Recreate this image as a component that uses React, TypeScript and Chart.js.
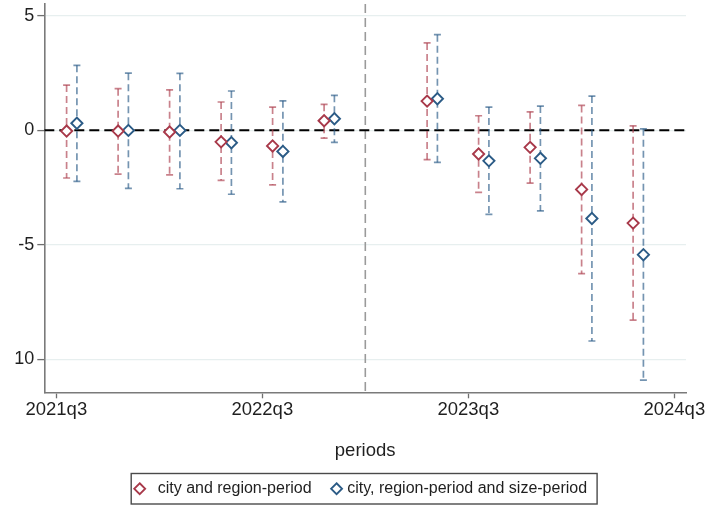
import React, { useEffect, useRef } from "react";
import { Chart, registerables } from "chart.js";

Chart.register(...registerables);

// ---------------- data ----------------
const periods = [
  "2021q3", "2021q4", "2022q1", "2022q2", "2022q3", "2022q4",
  "2023q2", "2023q3", "2023q4", "2024q1", "2024q2",
];
const referencePeriod = "2023q1";

const seriesNames = ["city and region-period", "city, region-period and size-period"];

const redCoef = [-0.04, -0.04, -0.08, -0.51, -0.69, 0.41, 1.27, -1.04, -0.75, -2.59, -4.06];
const redLow = [-2.09, -1.92, -1.95, -2.19, -2.39, -0.35, -1.29, -2.72, -2.31, -6.27, -8.3];
const redHigh = [1.97, 1.81, 1.76, 1.23, 1.01, 1.13, 3.81, 0.63, 0.8, 1.08, 0.19];

const blueCoef = [0.3, -0.01, -0.01, -0.55, -0.93, 0.5, 1.37, -1.34, -1.23, -3.86, -5.44];
const blueLow = [-2.24, -2.54, -2.56, -2.8, -3.13, -0.53, -1.41, -3.68, -3.53, -9.21, -10.92];
const blueHigh = [2.83, 2.49, 2.48, 1.71, 1.28, 1.52, 4.17, 1.01, 1.05, 1.49, 0.06];

const xTickLabels = ["2021q3", "2022q3", "2023q3", "2024q3"];
const yTickValues = [5, 0, -5, -10];
const yTickLabels = ["5", "0", "-5", "10"];
const xTitle = "periods";

// ---------------- helpers / styles ----------------
const quarterIndex = (p: string) => {
  const yr = parseInt(p.slice(0, 4), 10);
  const q = parseInt(p.slice(5), 10);
  return (yr - 2021) * 4 + (q - 3);
};

const FONT = "'Liberation Sans', Arial, Helvetica, sans-serif";
const TEXT = "#1f1f1f";
const RED = "#a8394a";
const RED_CI = "rgba(176,70,84,0.68)";
const BLUE = "#2b5b86";
const BLUE_CI = "rgba(44,92,136,0.66)";
const DODGE = [0.2, 0.4];
const PLOT_TOP = 4;

const ciSets = [
  { low: redLow, high: redHigh, color: RED_CI },
  { low: blueLow, high: blueHigh, color: BLUE_CI },
];

// pin the top edge of the plot area (tick-label padding would otherwise push it down)
const plotTopPlugin = {
  id: "plotTop",
  afterLayout(chart: any) {
    const ys = chart.scales.y;
    chart.chartArea.top = PLOT_TOP;
    chart.chartArea.height = chart.chartArea.bottom - PLOT_TOP;
    ys.top = PLOT_TOP;
    ys.height = ys.bottom - PLOT_TOP;
    ys.configure();
  },
};

const refLinesPlugin = {
  id: "refLines",
  beforeDatasetsDraw(chart: any) {
    const { ctx, chartArea } = chart;
    const xs = chart.scales.x;
    const ys = chart.scales.y;
    ctx.save();
    ctx.beginPath();
    ctx.rect(chartArea.left, chartArea.top, chartArea.right - chartArea.left, chartArea.bottom - chartArea.top);
    ctx.clip();

    // vertical reference line
    const vx = xs.getPixelForValue(quarterIndex(referencePeriod));
    ctx.strokeStyle = "#9a9a9a";
    ctx.lineWidth = 1.6;
    ctx.setLineDash([9, 5]);
    ctx.beginPath();
    ctx.moveTo(vx, chartArea.top);
    ctx.lineTo(vx, chartArea.bottom);
    ctx.stroke();

    // zero line
    const zy = ys.getPixelForValue(0);
    ctx.strokeStyle = "#000";
    ctx.lineWidth = 2;
    ctx.setLineDash([10, 5]);
    ctx.beginPath();
    ctx.moveTo(chartArea.left, zy);
    ctx.lineTo(chartArea.right, zy);
    ctx.stroke();

    // confidence intervals
    ciSets.forEach((s, di) => {
      periods.forEach((p, i) => {
        const x = xs.getPixelForValue(quarterIndex(p) + DODGE[di]);
        const yLo = ys.getPixelForValue(s.low[i]);
        const yHi = ys.getPixelForValue(s.high[i]);
        ctx.strokeStyle = s.color;
        ctx.lineWidth = 1.7;
        ctx.setLineDash([7, 4]);
        ctx.beginPath();
        ctx.moveTo(x, yHi);
        ctx.lineTo(x, yLo);
        ctx.stroke();
        ctx.setLineDash([]);
        ctx.lineWidth = 1.7;
        ctx.beginPath();
        ctx.moveTo(x - 3.5, yHi);
        ctx.lineTo(x + 3.5, yHi);
        ctx.moveTo(x - 3.5, yLo);
        ctx.lineTo(x + 3.5, yLo);
        ctx.stroke();
      });
    });
    ctx.restore();
  },
};

const boxedLegendPlugin = {
  id: "boxedLegend",
  afterDraw(chart: any) {
    const { ctx, chartArea } = chart;
    ctx.save();
    ctx.font = `16px ${FONT}`;
    const w1 = ctx.measureText(seriesNames[0]).width;
    const w2 = ctx.measureText(seriesNames[1]).width;
    const padL = 8.5;
    const d1ToText = 18;
    const itemGap = 25;
    const d2ToText = 10.7;
    const padR = 10;
    const total = padL + d1ToText + w1 + itemGap + d2ToText + w2 + padR;
    const cx = (chartArea.left + chartArea.right) / 2 - 1;
    const left = cx - total / 2;
    const top = 473.5;
    const h = 30.5;
    const cy = top + h / 2;

    ctx.strokeStyle = "#4a4a4a";
    ctx.lineWidth = 1.4;
    ctx.strokeRect(left, top, total, h);

    const diamond = (x: number, y: number, color: string) => {
      const r = 5.5;
      ctx.beginPath();
      ctx.moveTo(x, y - r);
      ctx.lineTo(x + r, y);
      ctx.lineTo(x, y + r);
      ctx.lineTo(x - r, y);
      ctx.closePath();
      ctx.fillStyle = "#fff";
      ctx.fill();
      ctx.strokeStyle = color;
      ctx.lineWidth = 1.8;
      ctx.stroke();
    };
    const d1 = left + padL;
    diamond(d1, cy, RED);
    ctx.fillStyle = TEXT;
    ctx.textBaseline = "middle";
    ctx.textAlign = "left";
    const t1 = d1 + d1ToText;
    ctx.fillText(seriesNames[0], t1, cy);
    const d2 = t1 + w1 + itemGap;
    diamond(d2, cy, BLUE);
    ctx.fillStyle = TEXT;
    ctx.fillText(seriesNames[1], d2 + d2ToText, cy);
    ctx.restore();
  },
};

export default function App() {
  const ref = useRef<HTMLCanvasElement | null>(null);

  useEffect(() => {
    if (!ref.current) return;
    const makeData = (coef: number[], di: number) =>
      periods.map((p, i) => ({ x: quarterIndex(p) + DODGE[di], y: coef[i] }));

    const chart = new Chart(ref.current, {
      type: "scatter",
      data: {
        datasets: [
          {
            label: seriesNames[0],
            data: makeData(redCoef, 0),
            pointStyle: "rectRot",
            pointRadius: 5.6,
            pointBorderWidth: 1.9,
            pointBackgroundColor: "#ffffff",
            pointBorderColor: RED,
            showLine: false,
          },
          {
            label: seriesNames[1],
            data: makeData(blueCoef, 1),
            pointStyle: "rectRot",
            pointRadius: 5.6,
            pointBorderWidth: 1.9,
            pointBackgroundColor: "#ffffff",
            pointBorderColor: BLUE,
            showLine: false,
          },
        ],
      },
      options: {
        animation: false,
        responsive: false,
        devicePixelRatio: 1,
        events: [],
        layout: { padding: { left: 0, top: PLOT_TOP, right: 21, bottom: 43 } },
        plugins: {
          legend: { display: false },
          tooltip: { enabled: false },
        },
        scales: {
          x: {
            type: "linear",
            min: -0.233,
            max: 12.227,
            afterBuildTicks: (scale: any) => {
              scale.ticks = xTickLabels.map((l) => ({ value: quarterIndex(l) }));
            },
            afterFit: (scale: any) => {
              scale.height = 72.7;
              scale.paddingLeft = 0;
              scale.paddingRight = 0;
            },
            ticks: {
              autoSkip: false,
              maxRotation: 0,
              padding: 1,
              color: TEXT,
              font: { family: FONT, size: 18.5 },
              callback: (v: any) => {
                const i = xTickLabels.findIndex((l) => quarterIndex(l) === v);
                return i >= 0 ? xTickLabels[i] : "";
              },
            },
            grid: {
              drawOnChartArea: false,
              drawTicks: true,
              tickLength: 6,
              tickColor: "#6f6f6f",
              tickWidth: 1.3,
            },
            border: { display: true, color: "#7a7a7a", width: 1.6 },
            title: {
              display: true,
              text: xTitle,
              color: TEXT,
              font: { family: FONT, size: 18.5 },
              padding: { top: 0, bottom: 3 },
            },
          },
          y: {
            type: "linear",
            min: -11.45,
            max: 5.51,
            afterBuildTicks: (scale: any) => {
              scale.ticks = yTickValues.map((v) => ({ value: v }));
            },
            afterFit: (scale: any) => {
              scale.width = 44.3;
              scale.paddingTop = 0;
              scale.paddingBottom = 0;
            },
            ticks: {
              padding: 3,
              color: TEXT,
              font: { family: FONT, size: 18, lineHeight: 1 },
              callback: (v: any) => {
                const i = yTickValues.indexOf(v);
                return i >= 0 ? yTickLabels[i] : "";
              },
            },
            grid: {
              color: "#e7efef",
              lineWidth: 1.2,
              drawTicks: true,
              tickLength: 7,
              tickColor: "#6f6f6f",
              tickWidth: 1.3,
            },
            border: { display: true, color: "#7a7a7a", width: 1.6 },
          },
        },
      } as any,
      plugins: [plotTopPlugin, refLinesPlugin, boxedLegendPlugin],
    });
    return () => chart.destroy();
  }, []);

  return (
    <div style={{ position: "absolute", left: 0, top: 0, width: 707, height: 508, background: "#fff" }}>
      <canvas ref={ref} width={707} height={508} style={{ width: 707, height: 508, display: "block" }} />
    </div>
  );
}
